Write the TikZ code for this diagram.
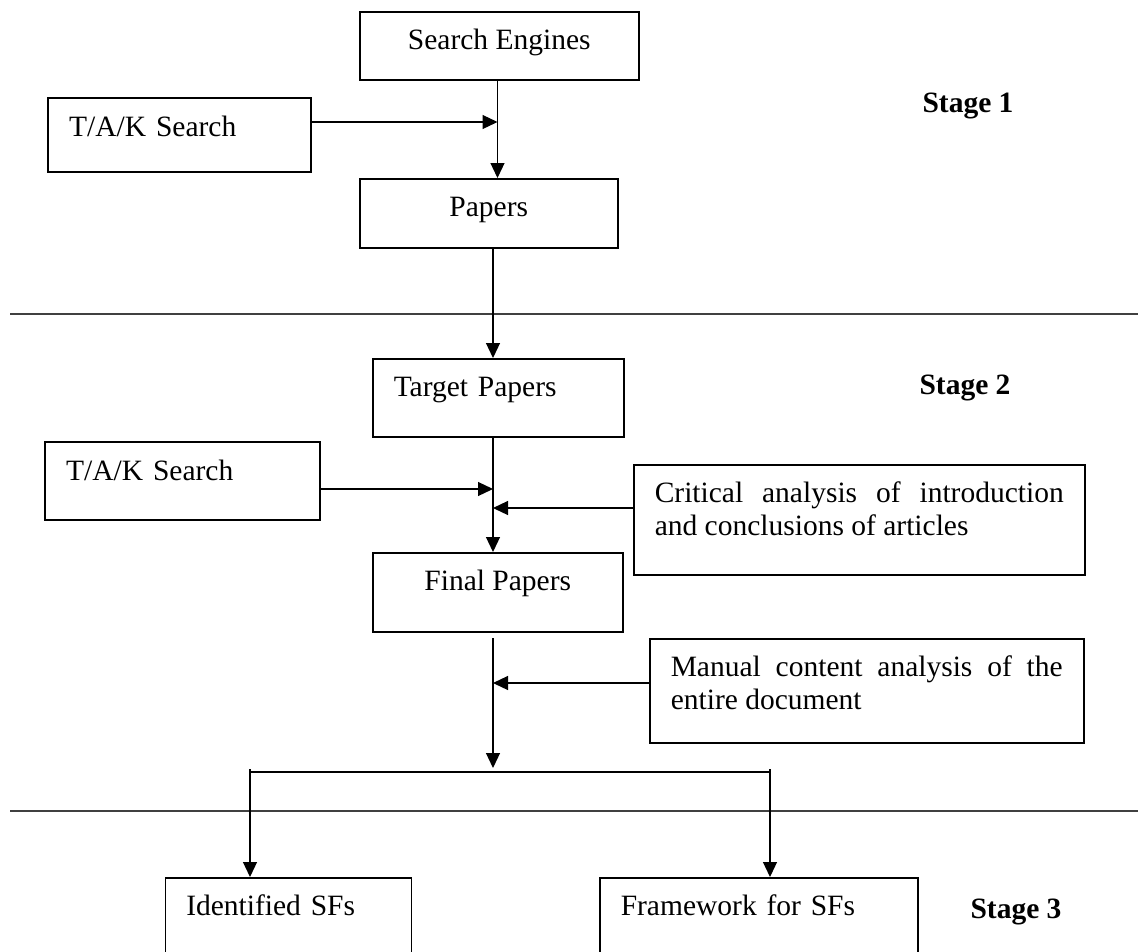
\documentclass[tikz,border=0pt]{standalone}
\usepackage{fontspec}
\setmainfont{Liberation Serif}
\usetikzlibrary{arrows.meta}

\begin{document}
\begin{tikzpicture}[x=1pt,y=-1pt,
  box/.style={draw,line width=1.5pt,anchor=north west,inner ysep=0pt,
    text height=38pt,font=\fontsize{29.5}{33}\selectfont},
  midbox/.style={box,inner xsep=0pt,align=center},
  leftbox/.style={box,inner xsep=21pt,align=left},
  takbox/.style={leftbox,line width=2.4pt},
  conn/.style={line width=1.2pt,-{Triangle[length=15pt,width=14pt]}},
  bar/.style={line width=1.2pt},
  rule/.style={line width=1.4pt,black!75},
  stage/.style={anchor=base west,font=\fontsize{29.5}{33}\selectfont\bfseries}]
  \clip (0,0) rectangle (1138,951);
  \foreach \y in {314,811}{%
    \draw[rule] (10,\y) -- (1138,\y);
  }
  \node[midbox,minimum width=279pt,text depth=30pt] (se) at (359,11) {Search Engines};
  \node[takbox,text width=221pt,text depth=36pt] (tak1) at (47,97) {T/A/K Search};
  \node[midbox,minimum width=258pt,text depth=31pt] (pap) at (359,178) {Papers};
  \node[stage] (st1) at (919,112) {Stage 1};
  \node[leftbox,text width=209pt,text depth=40pt] (tgt) at (372,358) {Target Papers};
  \node[takbox,text width=233pt,text depth=40pt] (tak2) at (44,441) {T/A/K Search};
  \node[leftbox,align=justify,text width=409pt,text depth=72pt] (crit) at (633,464)
    {Critical analysis of introduction and conclusions of articles};
  \node[midbox,minimum width=250pt,text depth=41pt] (fin) at (372,552) {Final Papers};
  \node[leftbox,align=justify,text width=392pt,text depth=66pt] (man) at (649,638)
    {Manual content analysis of the entire document};
  \node[stage] (st2) at (916,394) {Stage 2};
  \node[leftbox,text width=204pt,text depth=50pt] (ids) at (164.5,877) {Identified SFs};
  \node[leftbox,text width=276pt,text depth=50pt] (fw) at (599,877) {Framework for SFs};
  \node[stage] (st3) at (967,918) {Stage 3};
  \coordinate (j1) at (497.5,122);
  \draw[conn] (se.south -| j1) -- (pap.north -| j1);
  \draw[conn] (tak1.east |- j1) -- (j1);
  \coordinate (j2) at (493,489);
  \coordinate (j3) at (493,508);
  \draw[conn] (pap.south -| j2) -- (tgt.north -| j2);
  \draw[conn] (tgt.south -| j2) -- (fin.north -| j2);
  \draw[conn] (tak2.east |- j2) -- (j2);
  \draw[conn] (crit.west |- j3) -- (j3);
  \coordinate (j4) at (493,683);
  \coordinate (fout) at (493,638);
  \coordinate (split) at (493,768);
  \draw[conn] (fout) -- (split);
  \draw[conn] (man.west |- j4) -- (j4);
  \coordinate (bl) at (250,772);
  \coordinate (br) at (770,772);
  \draw[bar] (bl) -- (br);
  \draw[conn] ([yshift=3pt]bl) -- (ids.north -| bl);
  \draw[conn] ([yshift=3pt]br) -- (fw.north -| br);
\end{tikzpicture}
\end{document}
